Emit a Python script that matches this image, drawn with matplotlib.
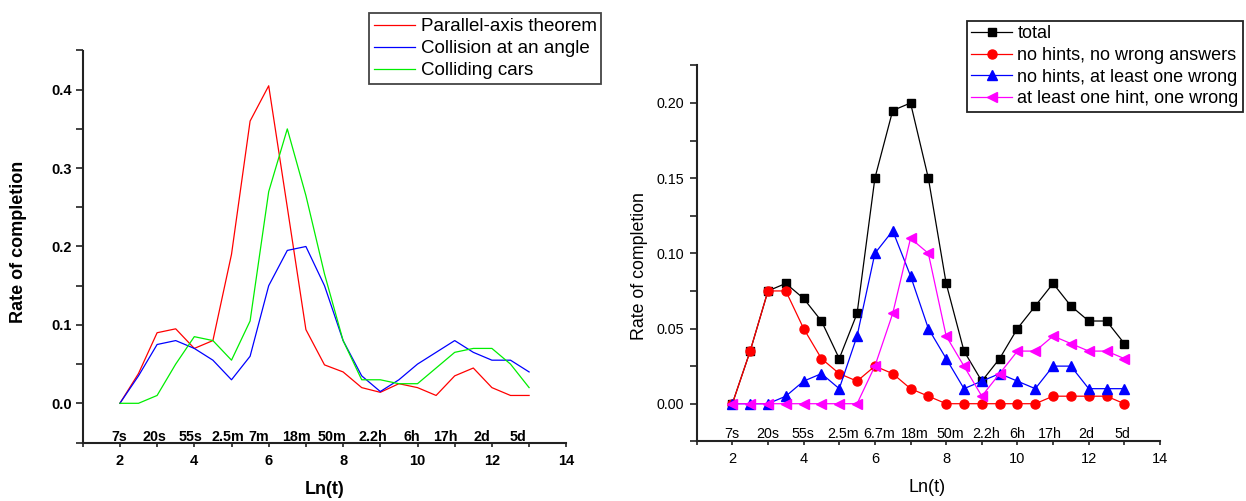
import matplotlib
matplotlib.use("Agg")
import matplotlib.pyplot as plt
from matplotlib.ticker import MultipleLocator, FormatStrFormatter

plt.rcParams['font.family'] = ['Liberation Sans', 'DejaVu Sans']

# ln(t) sample points shared by every series
ln_t = [2.0, 2.5, 3.0, 3.5, 4.0, 4.5, 5.0, 5.5, 6.0, 6.5, 7.0, 7.5,
        8.0, 8.5, 9.0, 9.5, 10.0, 10.5, 11.0, 11.5, 12.0, 12.5, 13.0]

# Completion rate per problem
parallel_axis = [0.0, 0.038, 0.090, 0.095, 0.070, 0.080, 0.190, 0.360, 0.405, 0.250,
                 0.094, 0.049, 0.040, 0.020, 0.014, 0.025, 0.020, 0.010, 0.035, 0.045,
                 0.020, 0.010, 0.010]
collision_angle = [0.0, 0.035, 0.075, 0.080, 0.070, 0.055, 0.030, 0.060, 0.150, 0.195,
                   0.200, 0.150, 0.080, 0.035, 0.015, 0.030, 0.050, 0.065, 0.080, 0.065,
                   0.055, 0.055, 0.040]
colliding_cars = [0.0, 0.0, 0.010, 0.050, 0.085, 0.080, 0.055, 0.105, 0.270, 0.350,
                  0.265, 0.165, 0.080, 0.030, 0.030, 0.025, 0.025, 0.045, 0.065, 0.070,
                  0.070, 0.050, 0.020]

# Completion rate split by hint / wrong-answer behaviour
total = [0.0, 0.035, 0.075, 0.080, 0.070, 0.055, 0.030, 0.060, 0.150, 0.195,
         0.200, 0.150, 0.080, 0.035, 0.015, 0.030, 0.050, 0.065, 0.080, 0.065,
         0.055, 0.055, 0.040]
no_hint_no_wrong = [0.0, 0.035, 0.075, 0.075, 0.050, 0.030, 0.020, 0.015, 0.025, 0.020,
                    0.010, 0.005, 0.0, 0.0, 0.0, 0.0, 0.0, 0.0, 0.005, 0.005,
                    0.005, 0.005, 0.0]
no_hint_wrong = [0.0, 0.0, 0.0, 0.005, 0.015, 0.020, 0.010, 0.045, 0.100, 0.115,
                 0.085, 0.050, 0.030, 0.010, 0.015, 0.020, 0.015, 0.010, 0.025, 0.025,
                 0.010, 0.010, 0.010]
hint_wrong = [0.0, 0.0, 0.0, 0.0, 0.0, 0.0, 0.0, 0.0, 0.025, 0.060,
              0.110, 0.100, 0.045, 0.025, 0.005, 0.020, 0.035, 0.035, 0.045, 0.040,
              0.035, 0.035, 0.030]

# Elapsed-time annotations along the bottom of each panel
time_labels_left = ['7s', '20s', '55s', '2.5m', '7m', '18m', '50m', '2.2h', '6h', '17h', '2d', '5d']
time_pos_left = [1.98, 2.94, 3.9, 4.89, 5.73, 6.74, 7.7, 8.8, 9.84, 10.74, 11.73, 12.7]
time_labels_right = ['7s', '20s', '55s', '2.5m', '6.7m', '18m', '50m', '2.2h', '6h', '17h', '2d', '5d']
time_pos_right = [1.98, 2.99, 3.99, 5.12, 6.12, 7.12, 8.11, 9.13, 10.0, 10.9, 11.94, 12.94]

W, H = 1246, 501
fig = plt.figure(figsize=(W / 100, H / 100), dpi=100)

ax1 = fig.add_axes([82.7 / W, 1 - 442.5 / H, 483.6 / W, 392 / H])
ax2 = fig.add_axes([696.7 / W, 1 - 441.3 / H, 463.3 / W, 375.9 / H])


def style_axes(ax, bold, ystep, yminor, yfmt):
    for side in ('top', 'right'):
        ax.spines[side].set_visible(False)
    for side in ('left', 'bottom'):
        ax.spines[side].set_linewidth(1.5)
        ax.spines[side].set_color('#222222')
    ax.set_xlim(1, 14)
    ax.xaxis.set_major_locator(MultipleLocator(2))
    ax.xaxis.set_minor_locator(MultipleLocator(1))
    ax.yaxis.set_major_locator(MultipleLocator(ystep))
    ax.yaxis.set_minor_locator(MultipleLocator(yminor))
    ax.yaxis.set_major_formatter(FormatStrFormatter(yfmt))
    weight = 'bold' if bold else 'normal'
    ax.tick_params(axis='x', which='both', direction='out', length=3, width=1.2,
                   color='#222222', pad=5, labelsize=10.5)
    ax.tick_params(axis='y', which='both', direction='out', length=5, width=1.2,
                   color='#222222', pad=3 if bold else 4, labelsize=10.5 if bold else 10.3)
    for lab in ax.get_xticklabels() + ax.get_yticklabels():
        lab.set_fontweight(weight)


# ---- left panel: three problems ----
ax1.plot(ln_t, parallel_axis, color='#ff0000', lw=0.9, label='Parallel-axis theorem')
ax1.plot(ln_t, collision_angle, color='#0000ff', lw=0.9, label='Collision at an angle')
ax1.plot(ln_t, colliding_cars, color='#00ee00', lw=0.9, label='Colliding cars')
ax1.set_ylim(-0.05, 0.45)
style_axes(ax1, True, 0.1, 0.05, '%.1f')
for pos, lab in zip(time_pos_left, time_labels_left):
    ax1.text(pos, -0.0427, lab, ha='center', va='center', fontsize=10.3, fontweight='bold')
ax1.set_xlabel('Ln(t)', fontsize=13, fontweight='bold')
ax1.set_ylabel('Rate of completion', fontsize=13, fontweight='bold')
ax1.xaxis.set_label_coords(0.501, -0.121)
ax1.xaxis.label.set_va('center')
ax1.yaxis.set_label_coords(-0.132, 0.511)
ax1.yaxis.label.set_va('center')
leg1 = ax1.legend(loc='upper left', bbox_to_anchor=(369 / W, 1 - 13.3 / H),
                  bbox_transform=fig.transFigure, borderaxespad=0, fancybox=False,
                  framealpha=1, edgecolor='#444444', prop={'size': 13.5},
                  handlelength=2.2, handletextpad=0.3, borderpad=0.25, labelspacing=0.27)
leg1.get_frame().set_linewidth(1.3)

# ---- right panel: breakdown of the collision problem ----
ax2.plot(ln_t, total, color='black', lw=0.9, marker='s', ms=5.8, label='total')
ax2.plot(ln_t, no_hint_no_wrong, color='#ff0000', lw=0.9, marker='o', ms=6.5,
         label='no hints, no wrong answers')
ax2.plot(ln_t, no_hint_wrong, color='#0000ff', lw=0.9, marker='^', ms=7,
         label='no hints, at least one wrong')
ax2.plot(ln_t, hint_wrong, color='#ff00ff', lw=0.9, marker='<', ms=7,
         label='at least one hint, one wrong')
ax2.set_ylim(-0.025, 0.225)
style_axes(ax2, False, 0.05, 0.025, '%.2f')
for pos, lab in zip(time_pos_right, time_labels_right):
    ax2.text(pos, -0.0202, lab, ha='center', va='center', fontsize=10.3)
ax2.set_xlabel('Ln(t)', fontsize=13)
ax2.set_ylabel('Rate of completion', fontsize=12.8)
ax2.xaxis.set_label_coords(0.498, -0.124)
ax2.xaxis.label.set_va('center')
ax2.yaxis.set_label_coords(-0.1245, 0.465)
ax2.yaxis.label.set_va('center')
leg2 = ax2.legend(loc='upper left', bbox_to_anchor=(966.7 / W, 1 - 20.7 / H),
                  bbox_transform=fig.transFigure, borderaxespad=0, fancybox=False,
                  framealpha=1, edgecolor='#222222', prop={'size': 13},
                  handlelength=2.25, handletextpad=0.3, borderpad=0.25, labelspacing=0.26)
leg2.get_frame().set_linewidth(1.3)

fig.savefig('out.png', dpi=100)
